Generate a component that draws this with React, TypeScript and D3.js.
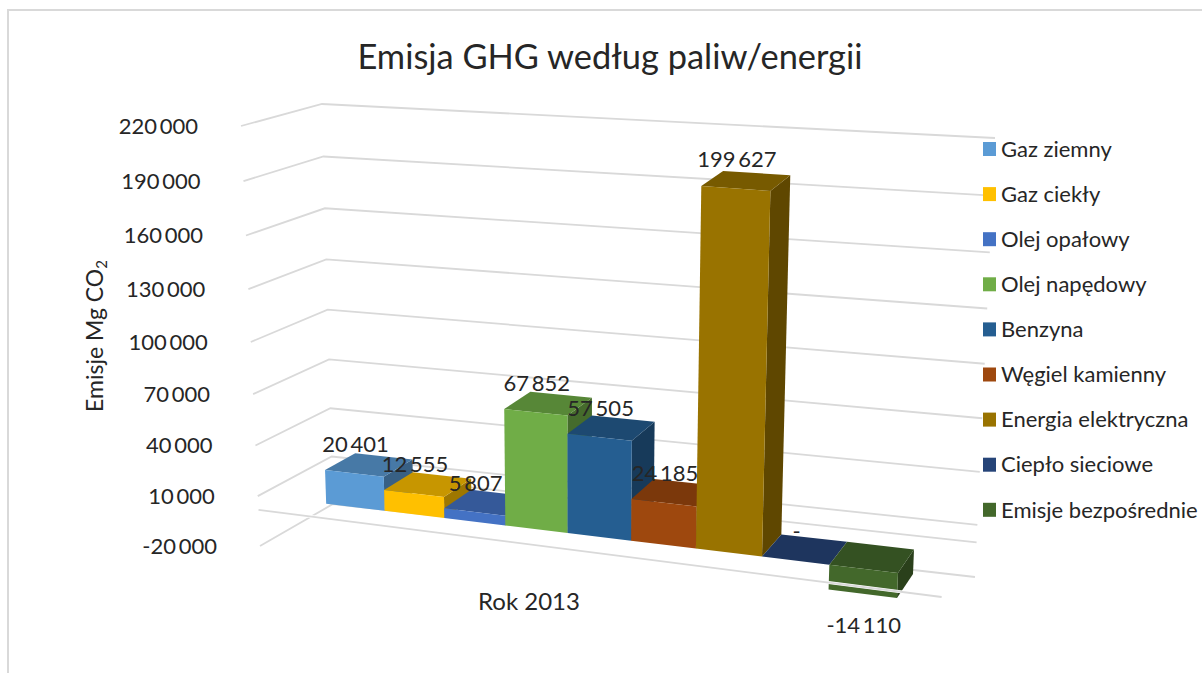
import * as d3 from "d3";

const categories = [
  "Gaz ziemny",
  "Gaz ciekły",
  "Olej opałowy",
  "Olej napędowy",
  "Benzyna",
  "Węgiel kamienny",
  "Energia elektryczna",
  "Ciepło sieciowe",
  "Emisje bezpośrednie",
];
const values = [20401, 12555, 5807, 67852, 57505, 24185, 199627, 0, -14110];
const colors = ["#5B9BD5", "#FFC000", "#4472C4", "#70AD47", "#255E91", "#9E480E", "#997300", "#264478", "#43682B"];
const ticks = [-20000, 10000, 40000, 70000, 100000, 130000, 160000, 190000, 220000];

const fontFamily = "Lato, sans-serif";
const textColor = "#262626";
const gridColor = "#d9d9d9";

const locale = d3.formatLocale({ decimal: ",", thousands: "\u2009", grouping: [3], currency: ["", ""], minus: "-" });
const fmt = locale.format(",d");

// chart box corners as they land on the page: [front-left, back-left, back-right, front-right]
const bottomCorners = [[260, 546], [333, 504], [975, 577], [940, 636]];
const topCorners = [[241, 126], [322, 104], [995, 138], [961, 180]];

const valueScale = d3.scaleLinear().domain([-20000, 220000]).range([0, 1]);
const bandScale = d3.scaleBand().domain(categories).range([0, 1]).paddingInner(0).paddingOuter(0);
const spanScale = d3.scaleLinear().domain([0, 1]).range([0.0626, 0.9165]);
const barFront = 0.35;
const barBack = 0.77;

// perspective: bars get wider to the right, tick spacing grows towards the top
const warp = (s: number) => spanScale(0.91 * s + 0.09 * s * s);
const liftWarp = (v: number) => v - 0.057 * v * (1 - v);

function project(u: number, value: number, z: number): [number, number] {
  const v = liftWarp(valueScale(value));
  const corner = (i: number, axis: number) =>
    bottomCorners[i][axis] + (topCorners[i][axis] - bottomCorners[i][axis]) * v;
  const axisAt = (axis: number) => {
    const left = corner(0, axis) + (corner(1, axis) - corner(0, axis)) * z;
    const right = corner(3, axis) + (corner(2, axis) - corner(3, axis)) * z;
    return left + (right - left) * u;
  };
  return [axisAt(0), axisAt(1)];
}

const polyline = d3.line();
const poly = (pts: [number, number][]) => polyline(pts) + "Z";
const shade = (hex: string, k: number) => {
  const c = d3.rgb(hex);
  return d3.rgb(c.r * k, c.g * k, c.b * k).formatHex();
};

function Bar({ name, value, color }: { name: string; value: number; color: string }) {
  const s0 = bandScale(name) as number;
  const u0 = warp(s0);
  const u1 = warp(s0 + bandScale.bandwidth());
  const top = Math.max(value, 0);
  const low = Math.min(value, 0);
  const frontFace = [project(u0, top, barFront), project(u1, top, barFront), project(u1, low, barFront), project(u0, low, barFront)];
  const topFace = [project(u0, top, barFront), project(u1, top, barFront), project(u1, top, barBack), project(u0, top, barBack)];
  const sideFace = [project(u1, top, barFront), project(u1, top, barBack), project(u1, low, barBack), project(u1, low, barFront)];
  return (
    <g>
      <path d={poly(sideFace)} fill={shade(color, 0.62)} />
      <path d={poly(topFace)} fill={shade(color, 0.78)} />
      {value !== 0 && <path d={poly(frontFace)} fill={color} />}
    </g>
  );
}

function BarLabel({ name, value }: { name: string; value: number }) {
  const s0 = bandScale(name) as number;
  const mid = (warp(s0) + warp(s0 + bandScale.bandwidth())) / 2;
  const [x, y] = project(mid, value, barFront);
  return (
    <text
      x={x + 1}
      y={value < 0 ? y + 32 : y - 29}
      dy="0.35em"
      textAnchor="middle"
      fontSize={22}
      fontFamily={fontFamily}
      fill={textColor}
    >
      {value === 0 ? "-" : fmt(value)}
    </text>
  );
}

export default function App() {
  return (
    <svg width={1202} height={673} style={{ position: "absolute", left: 0, top: 0, background: "#fff" }}>
      <path d="M8,673V10H1202" fill="none" stroke={gridColor} strokeWidth={2} />
      <text x={610} y={57} dy="0.35em" textAnchor="middle" fontSize={34.4} fontFamily={fontFamily} fill={textColor}>
        Emisja GHG według paliw/energii
      </text>

      {ticks.map((t) => {
        const a = project(0, t, 0);
        const b = project(0, t, 1);
        const c = project(1, t, 1);
        return (
          <g key={t}>
            <path d={polyline([a, b, c]) as string} fill="none" stroke={gridColor} strokeWidth={1.8} />
            <text x={a[0] - 43} y={a[1]} dy="0.35em" textAnchor="end" fontSize={22} fontFamily={fontFamily} fill={textColor}>
              {fmt(t)}
            </text>
          </g>
        );
      })}
      {/* floor at zero */}
      <path d={polyline([project(0, 0, 1), project(1, 0, 1)]) as string} fill="none" stroke={gridColor} strokeWidth={1.8} />

      {categories.map((name, i) => (
        <Bar key={name} name={name} value={values[i]} color={colors[i]} />
      ))}

      <path d={polyline([project(0, 0, 0), project(1, 0, 0)]) as string} fill="none" stroke="#fff" strokeWidth={3} transform="translate(0,-3)" />
      <path d={polyline([project(0, 0, 0), project(1, 0, 0)]) as string} fill="none" stroke={gridColor} strokeWidth={1.8} transform="translate(0,-3)" />

      {categories.map((name, i) => (
        <BarLabel key={name} name={name} value={values[i]} />
      ))}

      <text x={529} y={602} dy="0.35em" textAnchor="middle" fontSize={24} fontFamily={fontFamily} fill={textColor}>
        Rok 2013
      </text>

      <text transform="translate(103,336) rotate(-90)" textAnchor="middle" fontSize={23} fontFamily={fontFamily} fill={textColor}>
        Emisje Mg CO
        <tspan fontSize={15} dy={4}>2</tspan>
      </text>

      {categories.map((name, i) => {
        const y = 149 + i * 45.1;
        return (
          <g key={name}>
            <rect x={983} y={y - 7} width={13} height={14} fill={colors[i]} />
            <text x={1001} y={y} dy="0.35em" fontSize={22} fontFamily={fontFamily} fill={textColor}>
              {name}
            </text>
          </g>
        );
      })}
    </svg>
  );
}
